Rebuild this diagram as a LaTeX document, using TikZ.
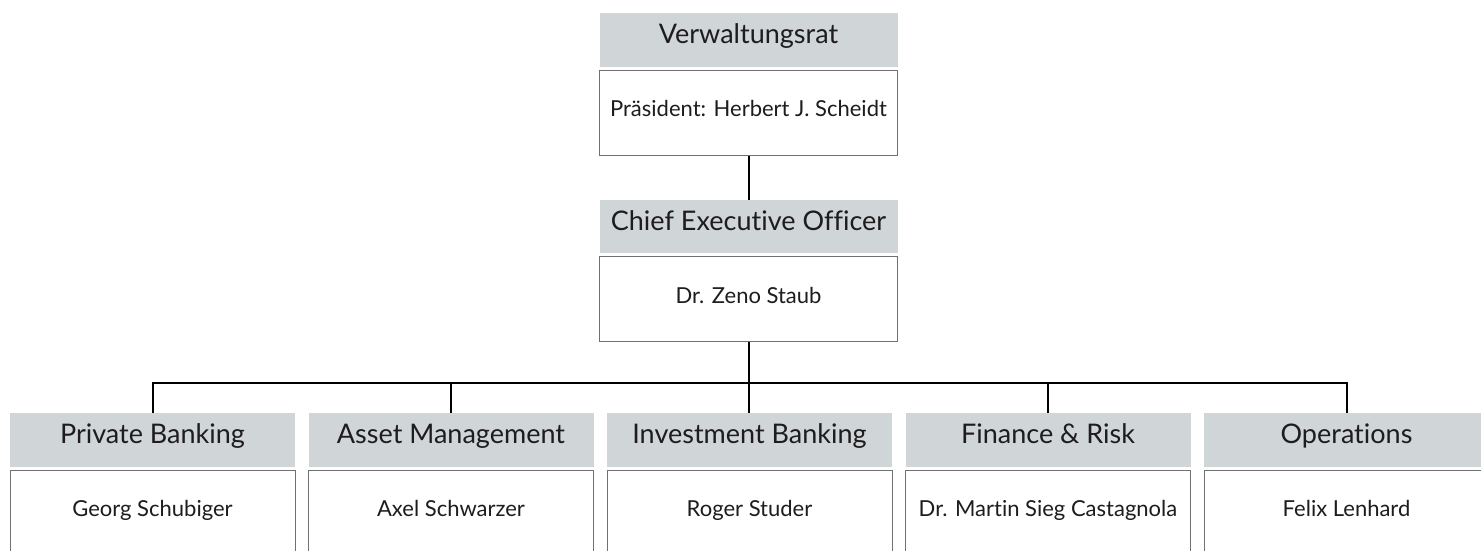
\documentclass[tikz,border=0pt]{standalone}
\usepackage{fontspec}
\setmainfont[Ligatures=NoCommon]{Lato}
\definecolor{headgray}{HTML}{D0D5D8}
\definecolor{framegray}{HTML}{707070}
\definecolor{inkgray}{HTML}{1E1C1D}

\begin{document}
\begin{tikzpicture}
  [x=1pt,y=1pt,
   head/.style={fill=headgray, text=inkgray, minimum width=285pt, minimum height=53.5pt,
     inner sep=0pt, text height=0.72em, text depth=0pt, font=\fontsize{27}{32}\selectfont},
   namebox/.style={draw=framegray, line width=1pt, fill=white, text=inkgray,
     minimum width=285pt, minimum height=85pt, inner sep=0pt, text height=0.72em, text depth=0pt,
     font=\fontsize{22}{26}\selectfont},
   link/.style={line width=2pt, black}]
  \clip (0,0) rectangle (1481,551);

  % board and ceo
  \node[head, minimum width=298pt]    (vr)     at (748.5,511)   {Verwaltungsrat};
  \node[namebox, minimum width=298pt] (vrbox)  at (748.5,438)   {Präsident: Herbert J. Scheidt};
  \node[head, minimum width=298pt]    (ceo)    at (748.5,324.5) {Chief Executive Officer};
  \node[namebox, minimum width=298pt] (ceobox) at (748.5,251.5) {Dr. Zeno Staub};

  % divisions
  \node[head]    (pb)     at (152.5,111)  {Private Banking};
  \node[namebox] (pbbox)  at (152.5,37.8) {Georg Schubiger};
  \node[head]    (am)     at (451,111)    {Asset Management};
  \node[namebox] (ambox)  at (451,37.8)   {Axel Schwarzer};
  \node[head]    (ib)     at (749.5,111)  {Investment Banking};
  \node[namebox] (ibbox)  at (749.5,37.8) {Roger Studer};
  \node[head]    (fr)     at (1048,111)   {Finance \& Risk};
  \node[namebox] (frbox)  at (1048,37.8)  {Dr. Martin Sieg Castagnola};
  \node[head]    (ops)    at (1346.5,111) {Operations};
  \node[namebox] (opsbox) at (1346.5,37.8) {Felix Lenhard};

  \coordinate (bus) at (748.5,168);

  \draw[link] (vrbox.south) -- (ceo.north);
  \draw[link] (ceobox.south) -- (ceobox.south |- ib.north);
  \draw[link] (pb.north) -- (pb.north |- bus) -- (ops.north |- bus) -- (ops.north);
  \foreach \dept in {am,fr}
    \draw[link] (\dept.north) -- (\dept.north |- bus);

\end{tikzpicture}
\end{document}
